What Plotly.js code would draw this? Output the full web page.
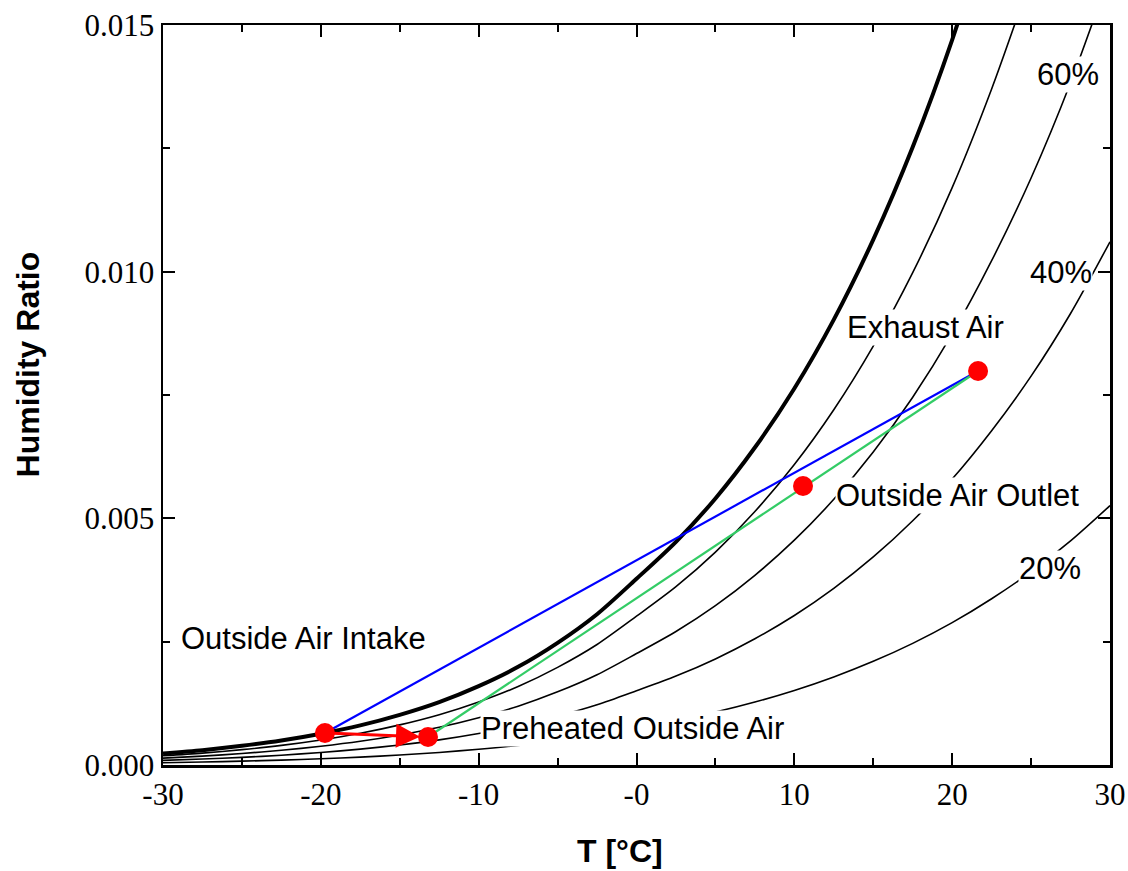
<!DOCTYPE html>
<html>
<head>
<meta charset="utf-8">
<script src="https://cdn.plot.ly/plotly-3.0.1.min.js"></script>
<style>html,body{margin:0;padding:0;background:#fff;}#chart{width:1128px;height:871px;}</style>
</head>
<body>
<div id="chart"></div>
<script>
// Temperatures [°C] for the relative-humidity curves
var tempC = [-30,-27.5,-25,-22.5,-20,-17.5,-15,-12.5,-10,-7.5,-5,-2.5,0,2.5,5,7.5,10,12.5,15,17.5,20,22.5,25,27.5,30];
// Humidity ratio along each relative-humidity curve
var rh100 = [0.0002335,0.0003011,0.0003884,0.0004965,0.0006345,0.0008029,0.0010164,0.0012751,0.0015995,0.0019897,0.0024761,0.0030566,0.0037745,0.0045243,0.0054030,0.0064353,0.0076319,0.0090283,0.0106505,0.0125257,0.0146994,0.017225,null,null,null];
var rh80  = [0.0001868,0.0002409,0.0003107,0.0003971,0.0005075,0.0006422,0.0008128,0.0010197,0.0012789,0.0015908,0.0019793,0.0024430,0.0030159,0.0036142,0.0043149,0.0051376,0.0060906,0.0072017,0.0084914,0.0099803,0.0117042,0.0137041,0.0159666,null,null];
var rh60  = [0.0001401,0.0001806,0.0002330,0.0002978,0.0003806,0.0004815,0.0006094,0.0007645,0.0009587,0.0011923,0.0014833,0.0018304,0.0022592,0.0027067,0.0032306,0.0038452,0.0045568,0.0053857,0.0063468,0.0074553,0.0087370,0.0102217,0.0118985,0.0138298,0.0160459];
var rh40  = [0.0000934,0.0001204,0.0001553,0.0001985,0.0002537,0.0003209,0.0004062,0.0005094,0.0006388,0.0007944,0.0009881,0.0012191,0.0015042,0.0018019,0.0021500,0.0025583,0.0030304,0.0035802,0.0042169,0.0049505,0.0057975,0.0067773,0.0078821,0.0091520,0.0106060];
var rh20  = [0.0000467,0.0000602,0.0000776,0.0000992,0.0001268,0.0001604,0.0002030,0.0002546,0.0003193,0.0003970,0.0004937,0.0006089,0.0007512,0.0008996,0.0010731,0.0012765,0.0015116,0.0017849,0.0021013,0.0024654,0.0028853,0.0033704,0.0039162,0.0045425,0.0052582];

// Air states
var stateNames = ['Outside Air Intake','Preheated Outside Air','Outside Air Outlet','Exhaust Air'];
var stateT = [-19.74, -13.21, 10.55, 21.64];
var stateW = [0.000649, 0.000568, 0.005655, 0.007987];

// Curve labels
var rhLabels = ['60%','40%','20%'];
var rhLabelT = [27.34, 26.9, 26.2];
var rhLabelW = [0.013987, 0.009993, 0.003993];

// State label positions
var stLabelT = [-28.92, -9.91, 12.58, 18.28];
var stLabelW = [0.002574, 0.00075, 0.005473, 0.008878];
var stLabelAnchor = ['left','left','left','center'];

// Axis ticks and titles
var xTickVals = [-30,-20,-10,0,10,20,30];
var xTickText = ['-30','-20','-10','-0','10','20','30'];
var yTickVals = [0,0.005,0.010,0.015];
var yTickText = ['0.000','0.005','0.010','0.015'];
var xTitle = 'T [°C]';
var yTitle = 'Humidity Ratio';

function curve(y, w){
  return {x: tempC, y: y, mode:'lines', line:{color:'#000', width:w, shape:'spline', smoothing:0.8}, hoverinfo:'skip', showlegend:false, connectgaps:false};
}
var traces = [
  curve(rh20,1.6), curve(rh40,1.6), curve(rh60,1.6), curve(rh80,1.6), curve(rh100,4),
  {x:[stateT[0],stateT[3]], y:[stateW[0],stateW[3]], mode:'lines', line:{color:'#0000ff', width:2.2}, showlegend:false},
  {x:[stateT[1],stateT[3]], y:[stateW[1],stateW[3]], mode:'lines', line:{color:'#33cc66', width:2.2}, showlegend:false},
  {x:stateT, y:stateW, mode:'markers', marker:{color:'#ff0000', size:20}, showlegend:false}
];

var annotations = [];
var lblFont = {family:'Liberation Sans, Arial, sans-serif', size:31, color:'#000'};
for (var i=0;i<rhLabels.length;i++){
  annotations.push({x:rhLabelT[i], y:rhLabelW[i], xref:'x', yref:'y', text:rhLabels[i], showarrow:false,
    font:lblFont, bgcolor:'#fff', borderpad:0});
}
for (var j=0;j<stateNames.length;j++){
  annotations.push({x:stLabelT[j], y:stLabelW[j], xref:'x', yref:'y', text:stateNames[j], showarrow:false, xanchor:stLabelAnchor[j],
    font:lblFont, bgcolor:'#fff', borderpad:0});
}
annotations.push({x:stateT[1], y:stateW[1], ax:stateT[0], ay:stateW[0], xref:'x', yref:'y', axref:'x', ayref:'y',
  text:'', showarrow:true, arrowhead:2, arrowsize:1.6, arrowwidth:3, arrowcolor:'#ff0000', standoff:8, startstandoff:0});
// axis titles
annotations.push({xref:'paper', yref:'paper', x:0.4826, y:-0.1419, text:'<b>'+xTitle+'</b>', showarrow:false,
  xanchor:'center', yanchor:'bottom', borderpad:0, font:{family:'Liberation Sans, Arial, sans-serif', size:32, color:'#000'}});
annotations.push({xref:'paper', yref:'paper', x:-0.1426, y:0.5412, text:'<b>'+yTitle+'</b>', showarrow:false, textangle:-90,
  xanchor:'center', yanchor:'middle', font:{family:'Liberation Sans, Arial, sans-serif', size:32, color:'#000'}});

var layout = {
  width:1128, height:871,
  margin:{l:163, r:18, t:25, b:106},
  paper_bgcolor:'#fff', plot_bgcolor:'#fff',
  showlegend:false,
  xaxis:{range:[-30,30], tickvals:xTickVals, ticktext:xTickText, ticks:'inside', ticklen:12, tickwidth:2, tickcolor:'#000',
    showline:true, linewidth:2.5, linecolor:'#000', mirror:'allticks', showgrid:false, zeroline:false,
    minor:{dtick:5, ticks:'inside', ticklen:7, tickwidth:2, tickcolor:'#000', showgrid:false},
    tickfont:{family:'Liberation Serif, Times New Roman, serif', size:31, color:'#000'}},
  yaxis:{range:[0,0.015], tickvals:yTickVals, ticktext:yTickText, ticks:'inside', ticklen:12, tickwidth:2, tickcolor:'#000',
    showline:true, linewidth:2.5, linecolor:'#000', mirror:'allticks', showgrid:false, zeroline:false,
    minor:{dtick:0.0025, ticks:'inside', ticklen:7, tickwidth:2, tickcolor:'#000', showgrid:false},
    tickfont:{family:'Liberation Serif, Times New Roman, serif', size:31, color:'#000'}},
  annotations:annotations
};
Plotly.newPlot('chart', traces, layout, {displayModeBar:false, staticPlot:true});
</script>
</body>
</html>
